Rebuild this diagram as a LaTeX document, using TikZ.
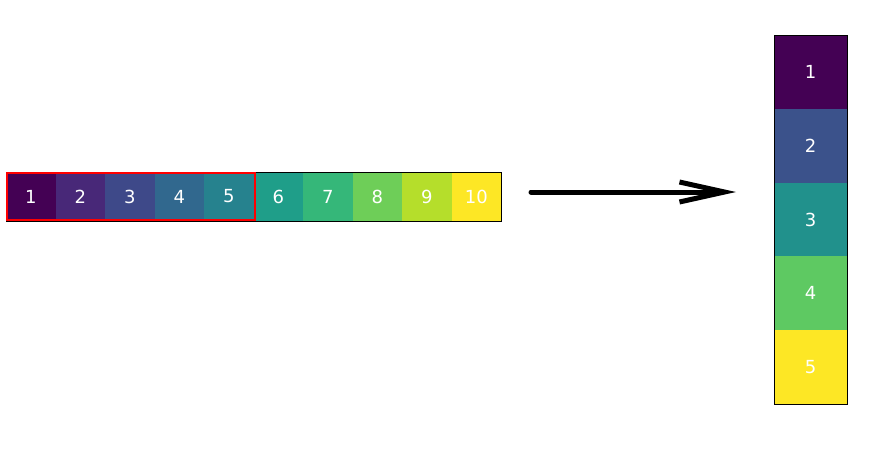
\documentclass[tikz,border=0pt]{standalone}
\usepackage{fontspec}
\setmainfont{DejaVu Sans}
\usetikzlibrary{positioning}
\usetikzlibrary{arrows.meta}
\definecolor{va}{HTML}{440154}
\definecolor{vb}{HTML}{482878}
\definecolor{vc}{HTML}{3E4989}
\definecolor{vd}{HTML}{31688E}
\definecolor{ve}{HTML}{26828E}
\definecolor{vf}{HTML}{1F9E89}
\definecolor{vg}{HTML}{35B779}
\definecolor{vh}{HTML}{6ECE58}
\definecolor{vi}{HTML}{B5DE2B}
\definecolor{vj}{HTML}{FDE725}
\definecolor{wb}{HTML}{3B528B}
\definecolor{wc}{HTML}{21918C}
\definecolor{wd}{HTML}{5EC962}

\begin{document}
\begin{tikzpicture}[x=1pt,y=-1pt,
  cell/.style={minimum width=49.5pt,minimum height=49pt,inner sep=0pt,outer sep=0pt,
    text=white,font=\fontsize{18}{21}\selectfont},
  tall/.style={cell,minimum width=73pt,minimum height=73.8pt}]
\useasboundingbox (0,0) rectangle (872,459);
% the strip of ten
\node[cell,fill=va]                   (c1)  at (30.75,196.5) {1};
\node[cell,fill=vb,right=0pt of c1]   (c2)  {2};
\node[cell,fill=vc,right=0pt of c2]   (c3)  {3};
\node[cell,fill=vd,right=0pt of c3]   (c4)  {4};
\node[cell,fill=ve,right=0pt of c4]   (c5)  {5};
\node[cell,fill=vf,right=0pt of c5]   (c6)  {6};
\node[cell,fill=vg,right=0pt of c6]   (c7)  {7};
\node[cell,fill=vh,right=0pt of c7]   (c8)  {8};
\node[cell,fill=vi,right=0pt of c8]   (c9)  {9};
\node[cell,fill=vj,right=0pt of c9]   (c10) {10};
\draw[line width=0.8pt] (c1.north west) rectangle (c10.south east);
\draw[red,line width=2pt] ([shift={(1.2pt,-1.2pt)}]c1.north west) rectangle ([shift={(1.2pt,1.2pt)}]c5.south east);
% the column of five
\node[tall,fill=va]                   (r1) at (810.5,71.9) {1};
\node[tall,fill=wb,below=0pt of r1]   (r2) {2};
\node[tall,fill=wc,below=0pt of r2]   (r3) {3};
\node[tall,fill=wd,below=0pt of r3]   (r4) {4};
\node[tall,fill=vj,below=0pt of r4]   (r5) {5};
\draw[line width=0.8pt] (r1.north west) rectangle (r5.south east);
% arrow
\coordinate (from) at (531,192);
\coordinate (to)   at (736,192);
\draw[line width=5pt,line cap=round,-{Straight Barb[length=45pt,width=20pt]}] (from) -- (to);
\end{tikzpicture}
\end{document}
